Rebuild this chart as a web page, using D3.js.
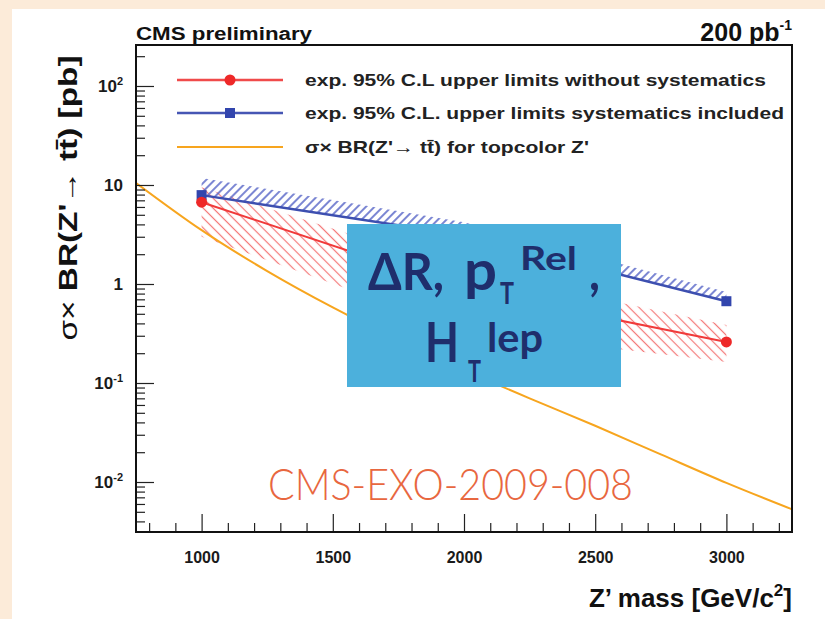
<!DOCTYPE html>
<html>
<head>
<meta charset="utf-8">
<script src="https://cdn.jsdelivr.net/npm/d3@7"></script>
<style>
  html, body { margin: 0; padding: 0; background: #fcebd9; }
  #chart { width: 825px; height: 619px; }
  text { font-family: "Liberation Sans", Arial, sans-serif; }
</style>
</head>
<body>
<div id="chart"></div>
<script>
// Expected limits (pb) at the simulated Z' masses
const massPoints = [1000, 2000, 3000];
const limitNoSyst = [6.7, 0.89, 0.26];
const limitNoSystUp = [9.5, 1.38, 0.385];
const limitNoSystDown = [3.0, 0.34, 0.163];
const limitSyst = [7.9, 3.1, 0.67];
const limitSystUp = [11.8, 4.2, 0.83];

// Topcolor Z' cross section x BR (pb)
const topcolorMass = [750, 1000, 1250, 1500, 1750, 2000, 2250, 2500, 2750, 3000, 3250];
const topcolorXsec = [10.5, 3.5, 1.35, 0.58, 0.27, 0.135, 0.07, 0.037, 0.019, 0.0098, 0.0053];

const xTicks = [1000, 1500, 2000, 2500, 3000];
const yTicks = [100, 10, 1, 0.1, 0.01];
const yTickLabels = [["10", "2"], ["10", ""], ["1", ""], ["10", "-1"], ["10", "-2"]];
const legendLabels = [
  "exp. 95% C.L upper limits without systematics",
  "exp. 95% C.L. upper limits systematics included",
  "\u03c3\u00d7 BR(Z'\u2192 tt\u0304) for topcolor Z'",
];

const W = 825, H = 619;
const frame = { left: 136, right: 792, top: 45, bottom: 532 };

const svg = d3.select("#chart").append("svg").attr("width", W).attr("height", H);

// slide background and white canvas
svg.append("rect").attr("width", W).attr("height", H).attr("fill", "#fcebd9");
svg.append("rect").attr("x", 12).attr("y", 9).attr("width", W - 12).attr("height", H - 9).attr("fill", "#fff");

const x = d3.scaleLinear().domain([750, 3250]).range([frame.left, frame.right]);
const y = d3.scaleLog().domain([Math.pow(10, -2.505), Math.pow(10, 2.414)]).range([frame.bottom, frame.top]);

const defs = svg.append("defs");
defs.append("clipPath").attr("id", "plotClip").append("rect")
  .attr("x", frame.left).attr("y", frame.top)
  .attr("width", frame.right - frame.left).attr("height", frame.bottom - frame.top);

function hatch(id, color, angle, gap, width) {
  defs.append("pattern")
    .attr("id", id)
    .attr("patternUnits", "userSpaceOnUse")
    .attr("width", gap).attr("height", gap)
    .attr("patternTransform", `rotate(${angle})`)
    .append("line")
    .attr("x1", gap / 2).attr("y1", 0).attr("x2", gap / 2).attr("y2", gap)
    .attr("stroke", color).attr("stroke-width", width);
}
hatch("hatchBlue", "#5a68c8", 45, 6, 1.6);
hatch("hatchRed", "#f47878", -45, 7, 1.2);

const plot = svg.append("g").attr("clip-path", "url(#plotClip)");

// hatched bands
const rows = massPoints.map((m, i) => ({
  m, red: limitNoSyst[i], redUp: limitNoSystUp[i], redDown: limitNoSystDown[i],
  blue: limitSyst[i], blueUp: limitSystUp[i],
}));

plot.append("path")
  .attr("d", d3.area().x((d) => x(d.m)).y0((d) => y(d.redDown)).y1((d) => y(d.redUp))(rows))
  .attr("fill", "url(#hatchRed)");
plot.append("path")
  .attr("d", d3.area().x((d) => x(d.m)).y0((d) => y(d.blue)).y1((d) => y(d.blueUp))(rows))
  .attr("fill", "url(#hatchBlue)");

// topcolor curve
plot.append("path")
  .datum(topcolorMass.map((m, i) => [m, topcolorXsec[i]]))
  .attr("d", d3.line().x((d) => x(d[0])).y((d) => y(d[1])).curve(d3.curveMonotoneX))
  .attr("fill", "none").attr("stroke", "#f7a51e").attr("stroke-width", 2);

// limit lines + markers
plot.append("path")
  .attr("d", d3.line().x((d) => x(d.m)).y((d) => y(d.blue))(rows))
  .attr("fill", "none").attr("stroke", "#3d4fb0").attr("stroke-width", 2.5);
plot.append("path")
  .attr("d", d3.line().x((d) => x(d.m)).y((d) => y(d.red))(rows))
  .attr("fill", "none").attr("stroke", "#f03a3a").attr("stroke-width", 2);

plot.selectAll("rect.blue").data(rows).join("rect")
  .attr("class", "blue")
  .attr("x", (d) => x(d.m) - 5).attr("y", (d) => y(d.blue) - 5)
  .attr("width", 10).attr("height", 10).attr("fill", "#3245ad");
plot.selectAll("circle.red").data(rows).join("circle")
  .attr("class", "red")
  .attr("cx", (d) => x(d.m)).attr("cy", (d) => y(d.red)).attr("r", 5.5)
  .attr("fill", "#ee2828");

// axes (ROOT style, ticks inside the frame)
const xMinor = d3.range(800, 3300, 100).filter((v) => v % 500 !== 0);
svg.append("g")
  .attr("transform", `translate(0,${frame.bottom})`)
  .call(d3.axisBottom(x).tickValues(xMinor).tickSize(-9).tickFormat(""))
  .call((g) => g.select(".domain").remove());
svg.append("g")
  .attr("transform", `translate(0,${frame.bottom})`)
  .call(d3.axisBottom(x).tickValues(xTicks).tickSize(-18).tickPadding(20).tickFormat(d3.format("d")))
  .call((g) => g.select(".domain").remove())
  .call((g) => g.selectAll("text")
    .style("font-family", "'Liberation Sans', Arial, sans-serif")
    .style("font-size", "16px").style("font-weight", "bold").attr("fill", "#1a1a1a"));

const yMinor = [];
for (let e = -3; e <= 2; e++) {
  for (let k = 2; k <= 9; k++) {
    const v = k * Math.pow(10, e);
    if (v > y.domain()[0] && v < y.domain()[1]) yMinor.push(v);
  }
}
svg.append("g")
  .attr("transform", `translate(${frame.left},0)`)
  .call(d3.axisLeft(y).tickValues(yMinor).tickSize(-9).tickFormat(""))
  .call((g) => g.select(".domain").remove());
svg.append("g")
  .attr("transform", `translate(${frame.left},0)`)
  .call(d3.axisLeft(y).tickValues(yTicks).tickSize(-18).tickPadding(13).tickFormat(""))
  .call((g) => g.select(".domain").remove())
  .call((g) => g.selectAll(".tick text").each(function (d, i) {
    const t = d3.select(this)
      .style("font-family", "'Liberation Sans', Arial, sans-serif")
      .style("font-size", "17px").style("font-weight", "bold").attr("fill", "#1a1a1a");
    const [base, sup] = yTickLabels[i];
    t.append("tspan").text(base);
    if (sup) t.append("tspan").attr("dy", -7).style("font-size", "11px").text(sup);
  }));
svg.selectAll(".tick line").attr("stroke", "#222").attr("stroke-width", 1.2);

// frame
svg.append("rect")
  .attr("x", frame.left).attr("y", frame.top)
  .attr("width", frame.right - frame.left).attr("height", frame.bottom - frame.top)
  .attr("fill", "none").attr("stroke", "#111").attr("stroke-width", 2);

// legend
const legendY = [80, 113, 147];
const legendColors = ["#f04a4a", "#4656b4", "#f7a51e"];
const legend = svg.append("g");
legendLabels.forEach((label, i) => {
  legend.append("line")
    .attr("x1", 177).attr("x2", 283).attr("y1", legendY[i]).attr("y2", legendY[i])
    .attr("stroke", legendColors[i]).attr("stroke-width", i === 2 ? 2 : 2.5);
  if (i === 0) legend.append("circle").attr("cx", 230).attr("cy", legendY[i]).attr("r", 5.5).attr("fill", "#ee2828");
  if (i === 1) legend.append("rect").attr("x", 225).attr("y", legendY[i] - 5).attr("width", 10).attr("height", 10).attr("fill", "#3245ad");
});
legend.selectAll("text").data(legendLabels).join("text")
  .attr("x", 305).attr("y", (d, i) => legendY[i] + 6)
  .attr("textLength", (d, i) => [461, 479, 284][i])
  .attr("lengthAdjust", "spacingAndGlyphs")
  .style("font-size", "17px").style("font-weight", "bold").attr("fill", "#222")
  .text((d) => d);

// header texts
svg.append("text").attr("x", frame.left).attr("y", 40)
  .attr("textLength", 176).attr("lengthAdjust", "spacingAndGlyphs")
  .style("font-size", "18px").style("font-weight", "bold").attr("fill", "#111")
  .text("CMS preliminary");
const lumi = svg.append("text").attr("x", 792).attr("y", 41).attr("text-anchor", "end")
  .style("font-size", "25px").style("font-weight", "bold").attr("fill", "#111");
lumi.append("tspan").text("200 pb");
lumi.append("tspan").attr("dy", -11).style("font-size", "14px").text("-1");

// axis titles
const xTitle = svg.append("text").attr("x", 792).attr("y", 607).attr("text-anchor", "end")
  .style("font-size", "26px").style("font-weight", "bold").attr("fill", "#111");
xTitle.append("tspan").text("Z\u2019 mass [GeV/c");
xTitle.append("tspan").attr("dy", -11).style("font-size", "17px").text("2");
xTitle.append("tspan").attr("dy", 11).text("]");

const yTitle = svg.append("text")
  .attr("transform", "translate(77,198) rotate(-90)")
  .attr("text-anchor", "middle")
  .attr("textLength", 285).attr("lengthAdjust", "spacingAndGlyphs")
  .style("font-size", "26px").attr("fill", "#111");
yTitle.append("tspan").text("\u03c3\u00d7 ");
yTitle.append("tspan").style("font-weight", "bold").text("BR(Z'");
yTitle.append("tspan").style("font-weight", "bold").text("\u2192 ");
yTitle.append("tspan").style("font-weight", "bold").text("tt\u0304) [pb]");

// overlay box
svg.append("rect").attr("x", 347).attr("y", 224).attr("width", 274).attr("height", 163).attr("fill", "#4cb0dc");
const boxFont = "Lato, 'Noto Sans', sans-serif";
const boxText = [
  { t: "\u0394R,", x: 368, y: 290, s: 52, w: 76 },
  { t: "p", x: 464, y: 290, s: 56, w: 33 },
  { t: "T", x: 500, y: 304, s: 31, w: 14 },
  { t: "Rel", x: 520, y: 270, s: 32, w: 57 },
  { t: ",", x: 589, y: 290, s: 52, w: 11 },
  { t: "H", x: 425, y: 362, s: 55, w: 34 },
  { t: "T", x: 468, y: 382, s: 30, w: 13 },
  { t: "lep", x: 487, y: 352, s: 41, w: 56 },
];
svg.append("g").selectAll("text").data(boxText).join("text")
  .attr("x", (d) => d.x).attr("y", (d) => d.y)
  .attr("textLength", (d) => d.w).attr("lengthAdjust", "spacingAndGlyphs")
  .style("font-family", boxFont).style("font-weight", "bold")
  .style("font-size", (d) => d.s + "px").attr("fill", "#1f2e6c")
  .text((d) => d.t);

svg.append("text").attr("x", 268).attr("y", 500)
  .attr("textLength", 365).attr("lengthAdjust", "spacingAndGlyphs")
  .style("font-family", "Lato, 'Noto Sans', sans-serif").style("font-weight", 300)
  .style("font-size", "44px").attr("fill", "#e8673f")
  .text("CMS-EXO-2009-008");
</script>
</body>
</html>
